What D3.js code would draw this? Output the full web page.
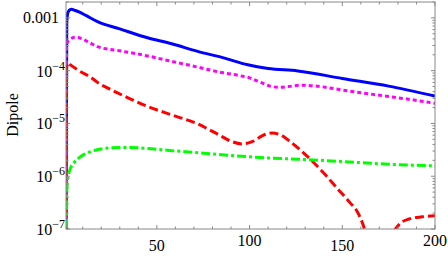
<!DOCTYPE html>
<html>
<head>
<meta charset="utf-8">
<script src="https://cdn.jsdelivr.net/npm/d3@7"></script>
<style>
  body { margin: 0; background: #fff; }
  svg text { font-family: "Liberation Serif", "DejaVu Serif", serif; fill: #000; }
  .frame { fill: none; stroke: #888; stroke-width: 1; }
  .tick-mark { stroke: #888; stroke-width: 1; }
  .curve { fill: none; stroke-width: 3; }
</style>
</head>
<body>
<div id="chart"></div>
<script>
"use strict";

// x, value pairs
let blueData = [
  [1, 1e-8], [1.4, 8e-4], [2, 1.25e-3], [3, 1.42e-3], [4, 1.45e-3], [6, 1.38e-3],
  [8, 1.3e-3], [12, 1.1e-3], [18, 8.5e-4], [30, 6.2e-4], [45, 4.2e-4], [58, 3.23e-4],
  [72, 2.32e-4], [86, 1.75e-4], [99, 1.29e-4], [110, 1.1e-4], [126, 9.9e-5],
  [150, 7.1e-5], [175, 5.1e-5], [200, 3.3e-5]
];

let magentaData = [
  [1, 1e-8], [1.3, 3.2e-4], [3, 3.9e-4], [6, 4.3e-4], [9, 4.1e-4], [13, 3.5e-4],
  [18, 2.85e-4], [30, 2.38e-4], [45, 1.9e-4], [58, 1.5e-4], [72, 1.17e-4],
  [85, 9.2e-5], [95, 8e-5], [100, 7.3e-5], [106, 6e-5], [111, 5.1e-5], [116, 4.85e-5],
  [121, 5.0e-5], [127, 5.3e-5], [138, 5.0e-5], [150, 4.3e-5], [163, 3.7e-5],
  [176, 3.2e-5], [188, 2.8e-5], [200, 2.4e-5]
];

let redData = [
  [1, 1e-8], [1.3, 1.1e-4], [2, 1.4e-4], [3.2, 1.3e-4], [8, 1e-4], [15, 7.2e-5],
  [18, 6e-5], [25, 4.4e-5], [35, 3e-5], [45, 2.1e-5], [58, 1.45e-5], [72, 9.8e-6],
  [83, 6.2e-6], [90, 4.6e-6], [96, 4.1e-6], [102, 4.6e-6], [107, 5.9e-6], [112, 6.6e-6],
  [117, 6.0e-6], [122, 4.5e-6], [128, 3.0e-6], [134, 1.9e-6], [141, 1.05e-6],
  [148, 5.5e-7], [154, 3.2e-7], [159, 1.85e-7], [164, 5e-8], [170, 1e-9], [176, 6e-8],
  [181, 1.25e-7], [186, 1.55e-7], [193, 1.7e-7], [200, 1.78e-7]
];

let greenData = [
  [1, 1e-8], [1.5, 6e-7], [2.2, 1.0e-6], [3.2, 1.35e-6], [5.9, 1.9e-6], [8.5, 2.3e-6],
  [14, 2.9e-6], [19, 3.25e-6], [26, 3.45e-6], [35, 3.5e-6], [45, 3.35e-6], [58, 3.05e-6],
  [72, 2.8e-6], [85, 2.55e-6], [99, 2.35e-6], [112, 2.2e-6], [126, 2.1e-6],
  [150, 1.9e-6], [173, 1.7e-6], [200, 1.57e-6]
];

let xTickValues = [50, 100, 150, 200];
let yTickExponents = [-3, -4, -5, -6, -7];

let series = [
  { data: blueData, color: "#0000ff", dash: null },
  { data: magentaData, color: "#ff00ff", dash: "4,3" },
  { data: redData, color: "#ff0000", dash: "9,4" },
  { data: greenData, color: "#00ff00", dash: "9,3,3,3" }
];

let margin = { top: 2, right: 13, bottom: 49, left: 66 };
let width = 448 - margin.left - margin.right;
let height = 278 - margin.top - margin.bottom;

let x = d3.scaleLinear().domain([1, 200]).range([0, width]);
let y = d3.scaleLog().domain([1e-7, 2e-3]).range([height, 0]);

let svg = d3.select("#chart")
  .append("svg")
  .attr("width", 448)
  .attr("height", 278);

let g = svg.append("g")
  .attr("transform", "translate(" + margin.left + "," + margin.top + ")");

g.append("clipPath").attr("id", "clip")
  .append("rect").attr("width", width).attr("height", height);

// curves
let line = d3.line()
  .x(d => x(d[0]))
  .y(d => y(d[1]))
  .curve(d3.curveMonotoneX);

g.append("g").attr("clip-path", "url(#clip)")
  .selectAll("path")
  .data(series)
  .join("path")
  .attr("class", "curve")
  .attr("stroke", d => d.color)
  .attr("stroke-dasharray", d => d.dash)
  .attr("d", d => line(d.data));

// frame
g.append("rect").attr("class", "frame")
  .attr("width", width).attr("height", height);

// x ticks: every 10 minor, every 50 major, bottom and top
let xTicks = d3.range(10, 201, 10);
xTicks.forEach(v => {
  let len = v % 50 === 0 ? 4 : 2.5;
  let px = x(v);
  g.append("line").attr("class", "tick-mark")
    .attr("x1", px).attr("x2", px).attr("y1", height).attr("y2", height - len);
  g.append("line").attr("class", "tick-mark")
    .attr("x1", px).attr("x2", px).attr("y1", 0).attr("y2", len);
});

// y ticks: decades major, 2..9 minor, left and right
for (let e = -7; e <= -3; e++) {
  for (let m = 1; m <= 9; m++) {
    let v = m * Math.pow(10, e);
    if (v > 2e-3) continue;
    let py = y(v);
    let len = m === 1 ? 4 : 2.5;
    g.append("line").attr("class", "tick-mark")
      .attr("x1", 0).attr("x2", len).attr("y1", py).attr("y2", py);
    g.append("line").attr("class", "tick-mark")
      .attr("x1", width).attr("x2", width - len).attr("y1", py).attr("y2", py);
  }
}

// x tick labels (staggered like the original)
xTickValues.forEach((v, i) => {
  svg.append("text")
    .attr("x", margin.left + x(v))
    .attr("y", i % 2 === 0 ? 251 : 246)
    .attr("text-anchor", "middle")
    .attr("font-size", 16)
    .text(v);
});

// y tick labels
yTickExponents.forEach(e => {
  let py = margin.top + y(Math.pow(10, e));
  if (e === -3) {
    svg.append("text")
      .attr("x", 59).attr("y", py + 5)
      .attr("text-anchor", "end")
      .attr("font-size", 16)
      .text("0.001");
  } else {
    let t = svg.append("text")
      .attr("x", 65).attr("y", py + 6)
      .attr("text-anchor", "end")
      .attr("font-size", 16);
    t.append("tspan").text("10");
    t.append("tspan").attr("font-size", 12).attr("dy", -7).text("\u2212" + (-e));
  }
});

// y axis title
svg.append("text")
  .attr("transform", "translate(18," + (margin.top + 113) + ") rotate(-90)")
  .attr("text-anchor", "middle")
  .attr("font-size", 16)
  .text("Dipole");
</script>
</body>
</html>
